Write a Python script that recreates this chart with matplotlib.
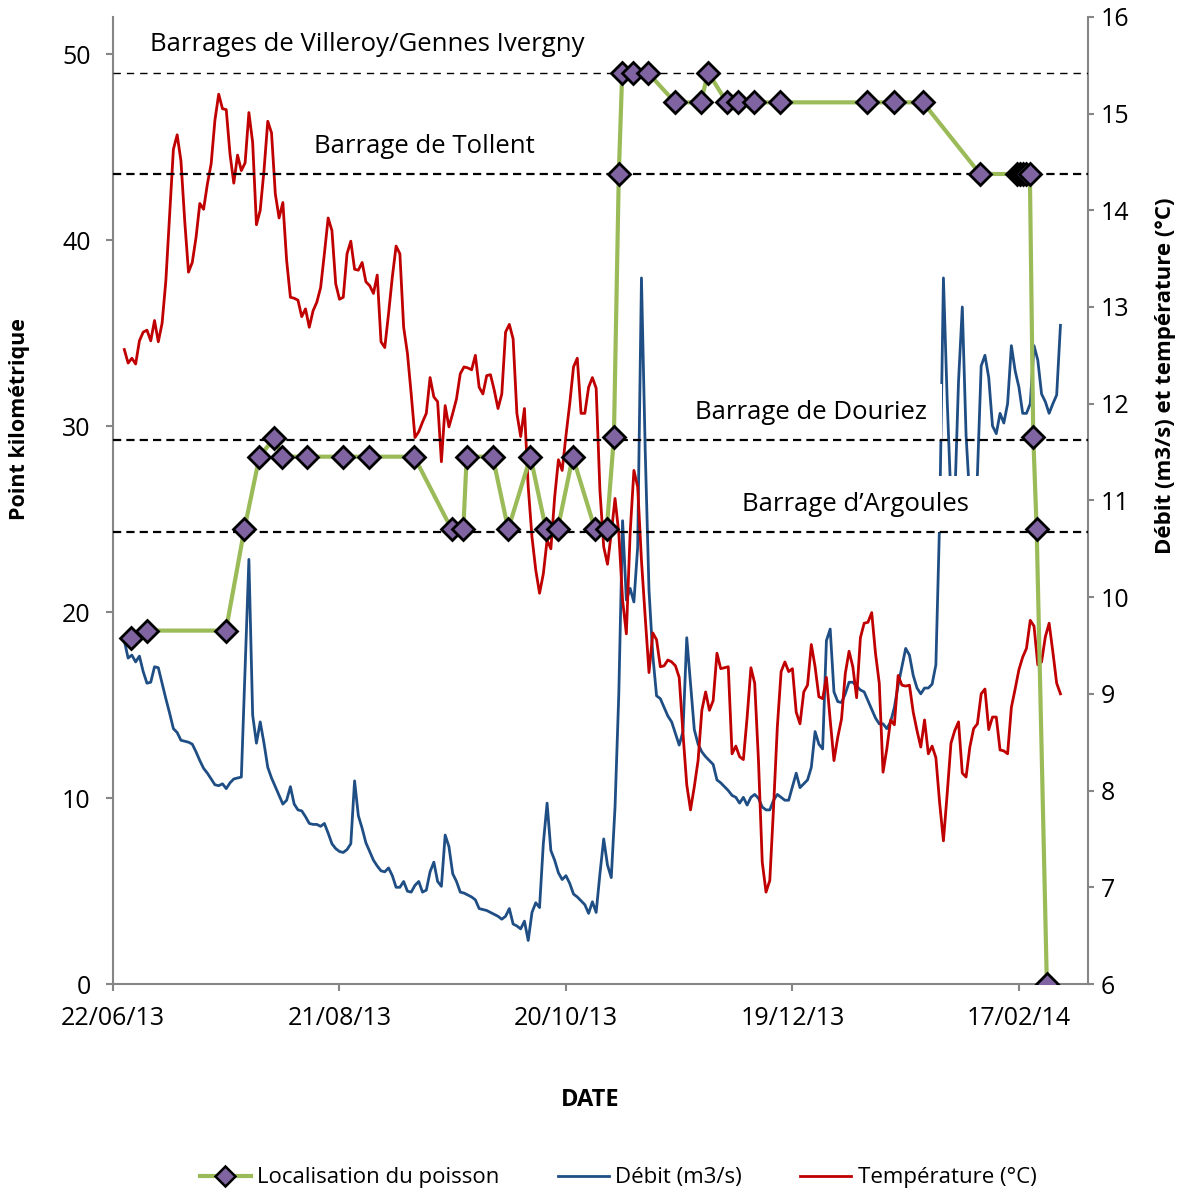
import numpy as np
import matplotlib
matplotlib.use("Agg")
import matplotlib.pyplot as plt
import matplotlib.dates as mdates
from matplotlib.lines import Line2D

plt.rcParams['font.family'] = ['Open Sans', 'DejaVu Sans']

# ---------------- data ----------------
start_date = "2013-06-22"          # day 0 of the x axis
first_day = 3                      # first daily measurement (day offset)

temperature = [
    12.56, 12.42, 12.47, 12.41, 12.65, 12.74, 12.76, 12.65, 12.86, 12.64,
    12.83, 13.27, 13.96, 14.63, 14.78, 14.51, 13.89, 13.36, 13.46, 13.72,
    14.07, 14.01, 14.27, 14.48, 14.93, 15.20, 15.05, 15.04, 14.58, 14.28,
    14.57, 14.41, 14.49, 15.01, 14.70, 13.85, 14.00, 14.41, 14.92, 14.80,
    14.17, 13.92, 14.08, 13.48, 13.10, 13.09, 13.07, 12.90, 12.98, 12.79,
    12.96, 13.05, 13.20, 13.55, 13.92, 13.79, 13.24, 13.08, 13.10, 13.55,
    13.68, 13.39, 13.38, 13.46, 13.26, 13.22, 13.14, 13.33, 12.64, 12.58,
    12.93, 13.31, 13.63, 13.55, 12.79, 12.52, 12.10, 11.65, 11.71, 11.81,
    11.90, 12.27, 12.07, 12.02, 11.40, 11.98, 11.76, 11.90, 12.05, 12.31,
    12.38, 12.37, 12.35, 12.50, 12.17, 12.10, 12.29, 12.30, 12.14, 11.95,
    12.10, 12.74, 12.82, 12.67, 11.90, 11.66, 11.95, 11.14, 10.62, 10.28,
    10.04, 10.24, 10.59, 10.50, 11.03, 11.42, 11.31, 11.67, 12.00, 12.38,
    12.47, 11.90, 11.90, 12.17, 12.27, 12.16, 11.10, 10.52, 10.34, 10.66,
    11.02, 10.66, 9.97, 9.62, 10.66, 11.31, 11.14, 10.38, 9.79, 9.22,
    9.63, 9.56, 9.28, 9.29, 9.35, 9.33, 9.29, 9.17, 8.59, 8.06,
    7.80, 8.04, 8.31, 8.83, 9.02, 8.83, 8.93, 9.42, 9.26, 9.27,
    9.28, 8.38, 8.46, 8.35, 8.32, 8.76, 9.27, 9.11, 8.31, 7.26,
    6.95, 7.07, 7.83, 8.66, 9.23, 9.33, 9.23, 9.26, 8.81, 8.69,
    9.02, 9.09, 9.51, 9.28, 8.97, 8.95, 9.17, 8.73, 8.31, 8.55,
    8.74, 9.21, 9.44, 9.28, 8.96, 9.58, 9.73, 9.74, 9.84, 9.42,
    9.11, 8.19, 8.43, 8.73, 8.68, 9.19, 9.09, 9.08, 9.09, 8.81,
    8.62, 8.45, 8.73, 8.38, 8.46, 8.34, 7.87, 7.48, 7.97, 8.49,
    8.62, 8.71, 8.18, 8.14, 8.45, 8.64, 8.69, 9.00, 9.05, 8.63,
    8.76, 8.76, 8.42, 8.41, 8.38, 8.86, 9.05, 9.25, 9.38, 9.47,
    9.76, 9.70, 9.30, 9.33, 9.59, 9.73, 9.43, 9.11, 9.00,
]

debit = [
    9.55, 9.37, 9.40, 9.33, 9.39, 9.23, 9.11, 9.12, 9.28, 9.27,
    9.11, 8.95, 8.80, 8.64, 8.60, 8.52, 8.51, 8.50, 8.48, 8.40,
    8.31, 8.23, 8.18, 8.12, 8.06, 8.05, 8.07, 8.02, 8.08, 8.12,
    8.13, 8.14, 9.27, 10.39, 8.78, 8.49, 8.71, 8.49, 8.24, 8.13,
    8.04, 7.95, 7.86, 7.90, 8.04, 7.86, 7.80, 7.79, 7.73, 7.66,
    7.65, 7.65, 7.63, 7.66, 7.56, 7.45, 7.40, 7.37, 7.36, 7.39,
    7.45, 8.10, 7.74, 7.61, 7.46, 7.37, 7.28, 7.22, 7.17, 7.16,
    7.20, 7.12, 7.00, 7.00, 7.06, 6.96, 6.95, 7.02, 7.06, 6.95,
    6.97, 7.16, 7.26, 7.06, 7.01, 7.54, 7.42, 7.14, 7.06, 6.95,
    6.94, 6.92, 6.90, 6.87, 6.78, 6.77, 6.76, 6.74, 6.72, 6.70,
    6.67, 6.70, 6.78, 6.62, 6.60, 6.57, 6.65, 6.45, 6.74, 6.84,
    6.79, 7.45, 7.87, 7.38, 7.28, 7.15, 7.08, 7.12, 7.04, 6.93,
    6.90, 6.86, 6.82, 6.73, 6.85, 6.74, 7.14, 7.50, 7.23, 7.10,
    7.83, 9.00, 10.79, 9.97, 10.09, 9.95, 10.52, 13.30, 11.51, 10.07,
    9.40, 8.98, 8.95, 8.86, 8.77, 8.71, 8.59, 8.47, 8.61, 9.58,
    9.11, 8.63, 8.48, 8.40, 8.35, 8.31, 8.27, 8.11, 8.08, 8.04,
    8.00, 7.95, 7.93, 7.87, 7.93, 7.85, 7.93, 7.96, 7.92, 7.83,
    7.80, 7.80, 7.90, 7.96, 7.93, 7.90, 7.90, 8.04, 8.18, 8.03,
    8.07, 8.11, 8.24, 8.61, 8.48, 8.43, 9.55, 9.67, 9.02, 8.92,
    8.91, 9.00, 9.12, 9.12, 9.08, 9.04, 9.02, 8.93, 8.84, 8.75,
    8.69, 8.69, 8.64, 8.71, 8.86, 9.09, 9.28, 9.47, 9.40, 9.19,
    9.06, 9.00, 9.06, 9.06, 9.10, 9.30, 10.80, 13.30, 12.03, 11.00,
    11.00, 12.23, 13.00, 11.67, 11.00, 11.00, 11.26, 12.39, 12.50, 12.27,
    11.77, 11.69, 11.90, 11.80, 12.00, 12.60, 12.34, 12.17, 11.90, 11.90,
    12.00, 12.60, 12.45, 12.10, 12.02, 11.90, 12.00, 12.09, 12.81,
]

fish_days = [4.8, 8.9, 29.9, 34.8, 38.8, 42.7, 44.8, 51.3, 60.8, 67.8,
             79.8, 89.7, 92.8, 93.7, 100.6, 104.7, 110.6, 114.7, 117.8, 121.8,
             127.7, 130.8, 132.7, 134.0, 134.9, 137.8, 141.7, 148.9, 155.7, 157.7,
             162.6, 165.6, 169.8, 176.7, 199.8, 206.9, 214.6, 229.7, 239.5, 240.3,
             241.1, 242.0, 242.9, 243.8, 244.7, 247.4]
fish_km = [18.6, 19.0, 19.0, 24.45, 28.35, 29.35, 28.35, 28.35, 28.35, 28.35,
           28.35, 24.45, 24.45, 28.35, 28.35, 24.45, 28.35, 24.45, 24.45, 28.35,
           24.45, 24.45, 29.4, 43.55, 49.0, 49.0, 49.0, 47.4, 47.4, 49.0,
           47.4, 47.4, 47.4, 47.4, 47.4, 47.4, 47.4, 43.55, 43.55, 43.55,
           43.55, 43.55, 43.55, 29.4, 24.45, 0.0]

dam_km = [49.0, 43.55, 29.25, 24.3]
dam_names = ["Barrages de Villeroy/Gennes Ivergny", "Barrage de Tollent",
             "Barrage de Douriez", "Barrage d\u2019Argoules"]
dam_label_day = [67.3, 82.6, 184.9, 196.6]
dam_label_km = [50.5, 45.05, 30.75, 25.8]

xtick_days = [0, 60, 120, 180, 240]
left_ticks = [0, 10, 20, 30, 40, 50]
right_ticks = [6, 7, 8, 9, 10, 11, 12, 13, 14, 15, 16]

# ---------------- figure ----------------
GREEN = "#9BBB59"
PURPLE = "#8064A2"
BLUE = "#1F4E85"
RED = "#C00000"
GREY = "#868686"

fig = plt.figure(figsize=(11.86, 11.94), dpi=100)
ax = fig.add_axes([113 / 1186, 1 - 984 / 1194, 975 / 1186, 967.2 / 1194])
ax2 = ax.twinx()
ax.set_zorder(2)
ax2.set_zorder(1)
ax.patch.set_visible(False)

x0 = mdates.date2num(np.datetime64(start_date))
n = len(temperature)
days = x0 + np.arange(first_day, first_day + n)

ax2.plot(days, debit, color=BLUE, lw=2.0, zorder=2)
ax2.plot(days, temperature, color=RED, lw=2.0, zorder=3)

# dam lines and labels (on left axis)
for i, (km, name, dx, ky) in enumerate(zip(dam_km, dam_names, dam_label_day, dam_label_km)):
    if i == 0:
        ax.axhline(km, color="black", lw=1.0, dashes=(5.3, 4.3), zorder=4)
    else:
        ax.axhline(km, color="black", lw=1.6, dashes=(3.7, 2.3), zorder=4)
    ax.text(x0 + dx, ky, name, ha="center", va="center", fontsize=18.5,
            zorder=3,
            bbox=dict(facecolor="white", edgecolor="none", pad=11 if i >= 2 else 3))

ax.plot(x0 + np.array(fish_days), fish_km, color=GREEN, lw=3.0,
        marker="D", markersize=11.5, markerfacecolor=PURPLE,
        markeredgecolor="black", markeredgewidth=2.0, zorder=5)

# axes
ax.set_xlim(x0, x0 + 258.3)
ax.set_ylim(0, 52)
ax2.set_ylim(6, 16)
ax.set_xticks(x0 + np.array(xtick_days))
ax.xaxis.set_major_formatter(mdates.DateFormatter("%d/%m/%y"))
ax.set_yticks(left_ticks)
ax2.set_yticks(right_ticks)

for a in (ax, ax2):
    for s in a.spines.values():
        s.set_color(GREY)
        s.set_linewidth(1.5)
    a.spines["top"].set_visible(False)
ax.spines["right"].set_visible(False)
ax2.spines["left"].set_visible(False)
ax2.spines["bottom"].set_visible(False)

ax.tick_params(axis="x", direction="out", length=5, width=1.5, color=GREY,
               labelsize=18, pad=11)
ax.tick_params(axis="y", direction="out", length=5, width=1.5, color=GREY,
               labelsize=18, pad=11)
ax2.tick_params(axis="y", direction="out", length=4, width=1.5, color=GREY,
                labelsize=18, pad=5)

fig.text(20 / 1186, 1 - 419 / 1194, "Point kilométrique", rotation=90,
         ha="center", va="center", fontsize=15.5, fontweight="bold")
fig.text(1166 / 1186, 1 - 376 / 1194, "Débit (m3/s) et température (°C)",
         rotation=90, ha="center", va="center", fontsize=16, fontweight="bold")
fig.text(590 / 1186, 1 - 1100 / 1194, "DATE", ha="center", va="center",
         fontsize=17, fontweight="bold")

handles = [
    Line2D([], [], color=GREEN, lw=3.0, marker="D", markersize=10,
           markerfacecolor=PURPLE, markeredgecolor="black", markeredgewidth=1.8),
    Line2D([], [], color=BLUE, lw=2.0),
    Line2D([], [], color=RED, lw=2.0),
]
labels = ["Localisation du poisson", "Débit (m3/s)", "Température (°C)"]
fig.legend(handles, labels, loc="center", bbox_to_anchor=(618 / 1186, 1 - 1178 / 1194),
           ncol=3, frameon=False, fontsize=16, handlelength=2.3,
           handletextpad=0.3, columnspacing=2.6)

fig.savefig("out.png", dpi=100)
